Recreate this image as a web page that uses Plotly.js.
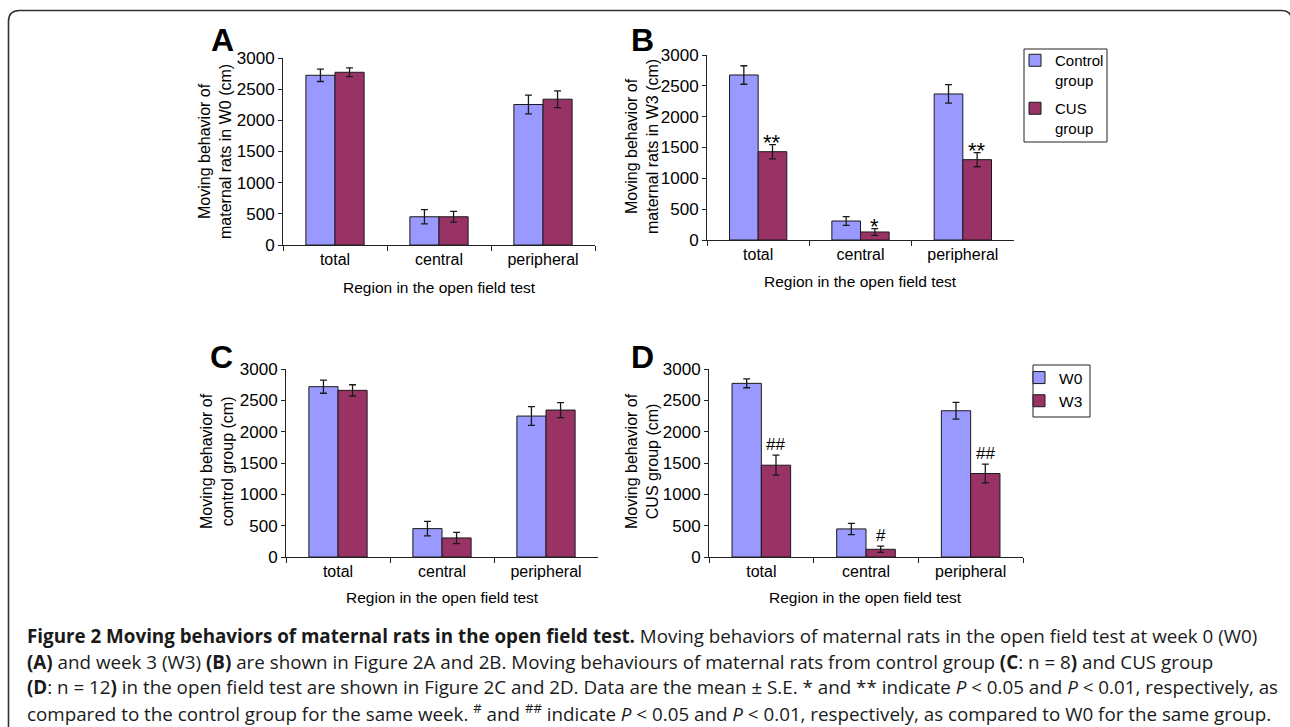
<!DOCTYPE html>
<html>
<head>
<meta charset="utf-8">
<script src="https://cdn.plot.ly/plotly-3.0.1.min.js"></script>
<style>html,body{margin:0;padding:0;background:#fff;}#chart{width:1290px;height:727px;}</style>
</head>
<body>
<div id="chart"></div>
<script>
// ---------- data ----------
const regions = ['total', 'central', 'peripheral'];

// Panel A: week 0
const A_control = [2723, 453, 2254];
const A_controlErr = [100, 115, 150];
const A_cus = [2771, 453, 2339];
const A_cusErr = [70, 85, 135];

// Panel B: week 3
const B_control = [2676, 308, 2368];
const B_controlErr = [150, 70, 150];
const B_cus = [1432, 130, 1303];
const B_cusErr = [115, 55, 115];
const B_sig = ['**', '*', '**'];

// Panel C: control group
const C_w0 = [2718, 453, 2249];
const C_w0Err = [105, 115, 150];
const C_w3 = [2659, 304, 2345];
const C_w3Err = [90, 90, 120];

// Panel D: CUS group
const D_w0 = [2771, 448, 2334];
const D_w0Err = [70, 90, 133];
const D_w3 = [1465, 123, 1332];
const D_w3Err = [160, 50, 150];
const D_sig = ['##', '#', '##'];

const seriesNamesGroup = ['Control<br>group', 'CUS<br>group'];
const seriesNamesWeek = ['W0', 'W3'];
const panelLetters = ['A', 'B', 'C', 'D'];
const yTitles = [
  'Moving behavior of<br>maternal rats in W0 (cm)',
  'Moving behavior of<br>maternal rats in W3 (cm)',
  'Moving behavior of<br>control group (cm)',
  'Moving behavior of<br>CUS group (cm)'
];
const xTitle = 'Region in the open field test';
const captionLines = [
  '<b>Figure 2 Moving behaviors of maternal rats in the open field test.</b> Moving behaviors of maternal rats in the open field test at week 0 (W0)',
  '<b>(A)</b> and week 3 (W3) <b>(B)</b> are shown in Figure 2A and 2B. Moving behaviours of maternal rats from control group <b>(C</b>: n = 8<b>)</b> and CUS group',
  '<b>(D</b>: n = 12<b>)</b> in the open field test are shown in Figure 2C and 2D. Data are the mean ± S.E. * and ** indicate <i>P</i> &lt; 0.05 and <i>P</i> &lt; 0.01, respectively, as',
  'compared to the control group for the same week. <sup>#</sup> and <sup>##</sup> indicate <i>P</i> &lt; 0.05 and <i>P</i> &lt; 0.01, respectively, as compared to W0 for the same group.'
];

// ---------- styling ----------
const W = 1290, H = 727;
const C1 = '#9999FF', C2 = '#993366';
const FONT = 'Liberation Sans, Arial, Helvetica, sans-serif';
const BARGAP = 0.44;
const px = v => v / W;
const py = v => 1 - v / H;

// panel boxes (page pixels)
const panels = [
  {x: [283, 595], y: [58, 245], title: [215, 152], letter: [222, 40], xt: 287},
  {x: [707, 1014], y: [55, 240], title: [642, 147], letter: [642, 40], xt: 282},
  {x: [286, 598], y: [369, 557], title: [217, 461], letter: [221, 357], xt: 597},
  {x: [709, 1023], y: [369, 557], title: [642, 461], letter: [642, 357], xt: 597}
];

function bar(name, y, err, color, i, legendName, show, grp) {
  return {
    type: 'bar', name: name, x: regions, y: y,
    xaxis: 'x' + (i === 0 ? '' : i + 1), yaxis: 'y' + (i === 0 ? '' : i + 1),
    marker: {color: color, line: {color: '#1a1a1a', width: 1}},
    error_y: {type: 'data', array: err, visible: true, color: '#1a1a1a', thickness: 1.3, width: 3.5},
    showlegend: show, legend: legendName, legendgroup: grp, hoverinfo: 'skip'
  };
}

const data = [
  bar(seriesNamesGroup[0], A_control, A_controlErr, C1, 0, 'legend', false, 'a1'),
  bar(seriesNamesGroup[1], A_cus, A_cusErr, C2, 0, 'legend', false, 'a2'),
  bar(seriesNamesGroup[0], B_control, B_controlErr, C1, 1, 'legend', true, 'b1'),
  bar(seriesNamesGroup[1], B_cus, B_cusErr, C2, 1, 'legend', true, 'b2'),
  bar(seriesNamesWeek[0], C_w0, C_w0Err, C1, 2, 'legend2', false, 'c1'),
  bar(seriesNamesWeek[1], C_w3, C_w3Err, C2, 2, 'legend2', false, 'c2'),
  bar(seriesNamesWeek[0], D_w0, D_w0Err, C1, 3, 'legend2', true, 'd1'),
  bar(seriesNamesWeek[1], D_w3, D_w3Err, C2, 3, 'legend2', true, 'd2')
];

const layout = {
  width: W, height: H,
  margin: {l: 0, r: 0, t: 0, b: 0},
  paper_bgcolor: '#ffffff', plot_bgcolor: '#ffffff',
  barmode: 'group', bargap: BARGAP, bargroupgap: 0,
  font: {family: FONT, color: '#000', size: 16},
  legend: {
    x: px(1015), y: py(44), xanchor: 'left', yanchor: 'top',
    borderwidth: 0, bgcolor: 'rgba(0,0,0,0)',
    font: {family: FONT, size: 15, color: '#000'}, valign: 'top', tracegroupgap: 6
  },
  legend2: {
    x: px(1019), y: py(361), xanchor: 'left', yanchor: 'top',
    borderwidth: 0, bgcolor: 'rgba(0,0,0,0)',
    font: {family: FONT, size: 15.5, color: '#000'}, valign: 'top', tracegroupgap: 0
  },
  annotations: [],
  shapes: []
};

panels.forEach((p, i) => {
  const s = i === 0 ? '' : String(i + 1);
  layout['xaxis' + s] = {
    domain: [px(p.x[0]), px(p.x[1])], anchor: 'y' + s, type: 'category',
    showline: true, linecolor: '#222', linewidth: 1,
    ticks: 'outside', tickson: 'boundaries', ticklen: 5, tickcolor: '#222',
    tickfont: {size: 16, family: FONT, color: '#000'},
    showgrid: false, zeroline: false, fixedrange: true
  };
  layout['yaxis' + s] = {
    domain: [py(p.y[1]), py(p.y[0])], anchor: 'x' + s,
    range: [0, 3000], dtick: 500, tick0: 0,
    showline: true, linecolor: '#222', linewidth: 1,
    ticks: 'outside', ticklen: 4, tickcolor: '#222',
    tickfont: {size: 17, family: FONT, color: '#000'},
    showgrid: false, zeroline: false, fixedrange: true
  };
  layout.annotations.push({
    xref: 'paper', yref: 'paper', x: px(p.title[0]), y: py(p.title[1]),
    text: yTitles[i], textangle: -90, showarrow: false,
    xanchor: 'center', yanchor: 'middle',
    font: {size: 16, family: FONT, color: '#000'}
  });
  layout.annotations.push({
    xref: 'paper', yref: 'paper', x: px((p.x[0] + p.x[1]) / 2), y: py(p.xt),
    text: xTitle, showarrow: false, xanchor: 'center', yanchor: 'middle',
    font: {size: 15.5, family: FONT, color: '#000'}
  });
  layout.annotations.push({
    xref: 'paper', yref: 'paper', x: px(p.letter[0]), y: py(p.letter[1]),
    text: '<b>' + panelLetters[i] + '</b>', showarrow: false,
    xanchor: 'center', yanchor: 'middle',
    font: {size: 32, family: FONT, color: '#000'}
  });
});

// legend frames
layout.shapes.push({type: 'rect', xref: 'paper', yref: 'paper',
  x0: px(1024), x1: px(1107), y0: py(142), y1: py(49), line: {color: '#222', width: 1}});
layout.shapes.push({type: 'rect', xref: 'paper', yref: 'paper',
  x0: px(1033), x1: px(1090), y0: py(417), y1: py(365), line: {color: '#222', width: 1}});

// significance markers above second bar of each group
const offset = (1 - BARGAP) / 4;
function sigMarks(sig, vals, errs, s) {
  sig.forEach((t, k) => {
    const star = t.indexOf('*') >= 0;
    layout.annotations.push({
      xref: 'x' + s, yref: 'y' + s, x: k + offset, y: vals[k] + errs[k],
      text: t, showarrow: false, xanchor: 'center', yanchor: 'bottom',
      yshift: star ? -12 : -1,
      font: {size: star ? 22 : 17, family: FONT, color: '#000'}
    });
  });
}
sigMarks(B_sig, B_cus, B_cusErr, '2');
sigMarks(D_sig, D_w3, D_w3Err, '4');

// caption lines
const capY = [636, 662, 687, 713];
captionLines.forEach((t, k) => {
  layout.annotations.push({
    xref: 'paper', yref: 'paper', x: px(25), y: py(capY[k]),
    text: t, showarrow: false, xanchor: 'left', yanchor: 'middle', align: 'left',
    font: {size: 18.8, family: 'Open Sans, Noto Sans, sans-serif', color: '#1a1a1a'}
  });
});

// figure frame (rounded rectangle, open at bottom)
const L = px(8.5), T = py(10.5), R = px(1292), rx = px(11), ry = 11 / H;
layout.shapes.push({
  type: 'path', xref: 'paper', yref: 'paper',
  path: `M ${L},-0.05 L ${L},${T - ry} Q ${L},${T} ${L + rx},${T} L ${R - rx},${T} Q ${R},${T} ${R},${T - ry} L ${R},-0.05`,
  line: {color: '#333', width: 1.6}
});

Plotly.newPlot('chart', data, layout, {staticPlot: true, displayModeBar: false});
</script>
</body>
</html>
